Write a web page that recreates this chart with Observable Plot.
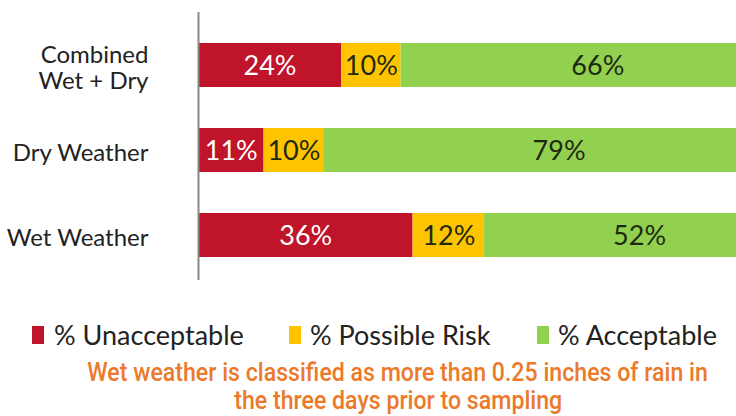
<!DOCTYPE html>
<html>
<head>
<meta charset="utf-8">
<script src="https://cdn.jsdelivr.net/npm/d3@7"></script>
<script src="https://cdn.jsdelivr.net/npm/@observablehq/plot@0.6"></script>
<style>
  html, body { margin: 0; padding: 0; background: #fff; overflow: hidden; width: 736px; height: 416px; }
  #chart { position: relative; width: 736px; height: 416px; }
  #legend { position: absolute; top: 320px; left: 0; width: 736px; height: 30px; font-family: Lato, sans-serif; font-size: 27px; color: #222; }
  .sw { position: absolute; top: 6px; width: 12px; height: 18px; }
  .lt { position: absolute; top: 0; line-height: 30px; white-space: nowrap; }
  #caption { position: absolute; top: 358px; left: 30px; width: 736px; text-align: center; font-family: Roboto, sans-serif; font-weight: 500; font-size: 26px; line-height: 28px; color: #EB7A2B; }
  #caption span { display: inline-block; transform: scaleX(0.89); transform-origin: center; white-space: nowrap; }
</style>
</head>
<body>
<div id="chart"></div>
<script>
const categories = ["Combined\nWet + Dry", "Dry Weather", "Wet Weather"];
const seriesNames = ["% Unacceptable", "% Possible Risk", "% Acceptable"];
const seriesColors = ["#C0142A", "#FFC400", "#92D050"];
const unacceptable = [24, 11, 36];
const possibleRisk = [10, 10, 12];
const acceptable = [66, 79, 52];
const captionLines = [
  "Wet weather is classified as more than 0.25 inches of rain in",
  "the three days prior to sampling"
];

const seriesValues = [unacceptable, possibleRisk, acceptable];
const rows = [];
categories.forEach((c, i) => {
  seriesNames.forEach((s, j) => rows.push({category: c, series: s, value: seriesValues[j][i]}));
});

const plot = Plot.plot({
  width: 736,
  height: 300,
  marginTop: 12,
  marginBottom: 20,
  marginLeft: 198,
  marginRight: 0,
  style: {overflow: "hidden", fontFamily: "Lato, sans-serif"},
  x: {domain: [0, 100], range: [198, 794], axis: null},
  y: {domain: categories, range: [21.5, 278], paddingInner: 0.485, paddingOuter: 0.243, label: null},
  color: {domain: seriesNames, range: seriesColors},
  marks: [
    Plot.barX(rows, Plot.stackX({x: "value", y: "category", fill: "series", order: seriesNames})),
    Plot.textX(rows, Plot.stackX({
      x: "value", y: "category", z: "series", order: seriesNames,
      text: d => d.series === seriesNames[0] ? d.value + "%" : null,
      fill: "white", fontSize: 27, dy: 1
    })),
    Plot.textX(rows, Plot.stackX({
      x: "value", y: "category", z: "series", order: seriesNames,
      text: d => d.series !== seriesNames[0] ? d.value + "%" : null,
      fill: "#1e2a10", fontSize: 27, dy: 1
    })),
    Plot.ruleX([0], {stroke: "#888", strokeWidth: 2}),
    Plot.axisY({tickSize: 0, tickPadding: 50, fontSize: 24, fill: "#222", label: null, lineHeight: 1.1, dy: 2})
  ]
});
document.getElementById("chart").appendChild(plot);

// Legend
const legend = document.createElement("div");
legend.id = "legend";
const swX = [32, 289, 537];
const txX = [54, 310, 558];
seriesNames.forEach((s, i) => {
  const sw = document.createElement("div");
  sw.className = "sw";
  sw.style.left = swX[i] + "px";
  sw.style.background = seriesColors[i];
  legend.appendChild(sw);
  const t = document.createElement("div");
  t.className = "lt";
  t.style.left = txX[i] + "px";
  t.textContent = s;
  legend.appendChild(t);
});
document.getElementById("chart").appendChild(legend);

const cap = document.createElement("div");
cap.id = "caption";
captionLines.forEach((l, i) => {
  const sp = document.createElement("span");
  sp.textContent = l;
  cap.appendChild(sp);
  if (i < captionLines.length - 1) cap.appendChild(document.createElement("br"));
});
document.getElementById("chart").appendChild(cap);
</script>
</body>
</html>
